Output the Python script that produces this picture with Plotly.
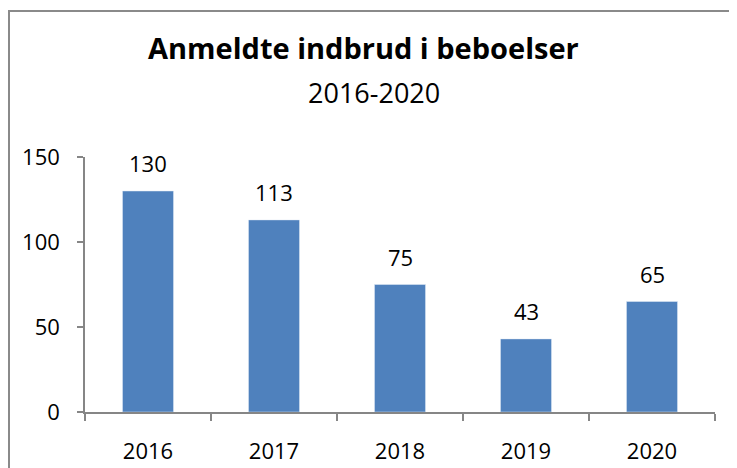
import plotly.graph_objects as go

years = ["2016", "2017", "2018", "2019", "2020"]
counts = [130, 113, 75, 43, 65]
y_ticks = [0, 50, 100, 150]

# the page body adds an 8px offset; lay out in reference pixels minus 8
OFF = 8
W, H = 737 - OFF, 468 - OFF
L, R, T, B = 85 - OFF, W - (715 - OFF), 157 - OFF, H - (412 - OFF)
pw, ph = W - L - R, H - T - B

def px_x(x):
    return (x - OFF - L) / pw

def px_y(y):
    return (H - B - (y - OFF)) / ph

font = "Open Sans"
axis_col = "#868686"

fig = go.Figure()
fig.add_trace(go.Bar(x=years, y=counts, marker_color="#4F81BD", width=0.405,
                     hoverinfo="skip"))

for i, v in enumerate(counts):
    fig.add_annotation(x=i, y=v, text=str(v), showarrow=False, yshift=28,
                       font=dict(family=font, size=22, color="black"))

fig.add_annotation(xref="paper", yref="paper", x=px_x(363), y=px_y(47),
                   text="<b>Anmeldte indbrud i beboelser</b>", showarrow=False,
                   xanchor="center", yanchor="middle",
                   font=dict(family=font, size=29, color="black"))
fig.add_annotation(xref="paper", yref="paper", x=px_x(374), y=px_y(92),
                   text="2016-2020", showarrow=False,
                   xanchor="center", yanchor="middle",
                   font=dict(family=font, size=27, color="black"))

# outer border (left and top edges visible)
bcol = "#8a8a8a"
fig.add_shape(type="line", xref="paper", yref="paper",
              x0=px_x(9), x1=px_x(9), y0=px_y(10), y1=px_y(490),
              line=dict(color=bcol, width=2))
fig.add_shape(type="line", xref="paper", yref="paper",
              x0=px_x(8), x1=px_x(760), y0=px_y(11), y1=px_y(11),
              line=dict(color=bcol, width=2))

fig.update_layout(
    width=W, height=H,
    margin=dict(l=L, r=R, t=T, b=B, autoexpand=False),
    paper_bgcolor="white", plot_bgcolor="white",
    showlegend=False,
    font=dict(family=font, size=22, color="black"),
    xaxis=dict(type="category", range=[-0.5, 4.5], automargin=False,
               showline=True, linecolor=axis_col, linewidth=1.5,
               ticks="outside", tickson="boundaries", ticklen=7, tickcolor=axis_col,
               tickwidth=1.5, showgrid=False, ticklabelstandoff=19, tickangle=0,
               tickfont=dict(family=font, size=22, color="black")),
    yaxis=dict(range=[0, 150], tickvals=y_ticks, automargin=False, showline=True,
               linecolor=axis_col, linewidth=1.5, ticks="outside", ticklen=6,
               tickcolor=axis_col, tickwidth=1.5, showgrid=False, zeroline=False,
               ticklabelstandoff=13,
               tickfont=dict(family=font, size=22, color="black")),
)

fig.write_html("out.html")
